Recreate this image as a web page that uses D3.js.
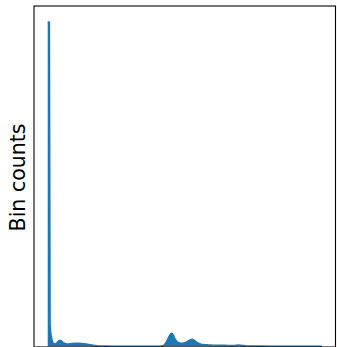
<!DOCTYPE html>
<html>
<head>
<meta charset="utf-8">
<script src="https://cdn.jsdelivr.net/npm/d3@7"></script>
<style>
  html, body { margin: 0; padding: 0; background: #fff; }
  svg { display: block; }
</style>
</head>
<body>
<script>
// Histogram profile: bin positions and counts
const binPositions = [0, 1.5, 2.2, 3, 4, 5, 7, 9, 11, 12, 13, 15, 17, 19, 21, 24, 27, 30, 33, 36, 39, 42, 45, 49, 53, 58, 65, 75, 85, 95, 105, 111, 113, 115, 117, 119, 120, 121, 122, 123, 124, 125, 127, 129, 131, 133, 135, 137, 139, 141, 142, 143, 145, 147, 149, 151, 154, 158, 162, 166, 170, 174, 178, 182, 185, 188, 191, 195, 200, 210, 220, 230, 240, 255, 270];
const binCounts    = [3240, 3240, 210, 120, 70, 35, 18, 35, 55, 60, 57, 40, 28, 24, 25, 28, 30, 30, 28, 25, 20, 15, 10, 6, 4, 3, 2, 2, 2, 2, 2, 3, 5, 15, 45, 85, 105, 122, 130, 124, 105, 80, 50, 35, 30, 30, 35, 45, 58, 67, 70, 68, 55, 40, 28, 22, 18, 15, 13, 12, 10, 10, 8, 8, 10, 14, 10, 6, 4, 3, 2, 1, 1, 0.5, 0.3];
const yLabel = "Bin counts";

const W = 337, H = 347;
const plot = { left: 34, right: 335.5, top: 6, bottom: 347 };

const svg = d3.select("body").append("svg")
  .attr("width", W).attr("height", H);

const xMin = d3.min(binPositions), xMax = d3.max(binPositions);
const xPad = (xMax - xMin) * 0.05;
const x = d3.scaleLinear()
  .domain([xMin - xPad, xMax + xPad])
  .range([plot.left, plot.right]);

const yMax = d3.max(binCounts) * 1.05;
const y = d3.scaleLinear()
  .domain([0, yMax])
  .range([plot.bottom - 0.5, plot.top]);

const data = binPositions.map((p, i) => ({ p, c: binCounts[i] }));

const g = svg.append("g");

g.append("path")
  .datum(data)
  .attr("fill", "#1f77b4")
  .attr("d", d3.area().x(d => x(d.p)).y0(y(0)).y1(d => y(d.c)));

g.append("path")
  .datum(data)
  .attr("fill", "none")
  .attr("stroke", "#1f77b4")
  .attr("stroke-width", 1.8)
  .attr("stroke-linejoin", "round")
  .attr("d", d3.line().x(d => x(d.p)).y(d => y(d.c)));

// Axes frame
svg.append("rect")
  .attr("x", plot.left).attr("y", plot.top)
  .attr("width", plot.right - plot.left)
  .attr("height", plot.bottom - plot.top)
  .attr("fill", "none")
  .attr("stroke", "#000")
  .attr("stroke-width", 1.1);

svg.append("text")
  .attr("transform", `translate(25,${(plot.top + plot.bottom) / 2 + 1}) rotate(-90)`)
  .attr("text-anchor", "middle")
  .attr("font-family", "DejaVu Sans")
  .attr("font-size", 20.5)
  .attr("fill", "#000")
  .text(yLabel);
</script>
</body>
</html>
